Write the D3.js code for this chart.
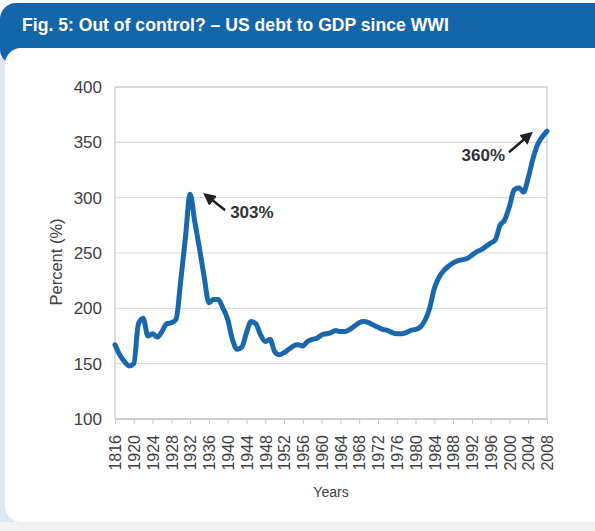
<!DOCTYPE html>
<html>
<head>
<meta charset="utf-8">
<script src="https://cdn.jsdelivr.net/npm/d3@7"></script>
<style>
  html, body { margin: 0; padding: 0; background: #ffffff; }
  svg { display: block; font-family: "Liberation Sans", Arial, sans-serif; }
</style>
</head>
<body>
<svg id="chart" width="595" height="531"></svg>
<script>
// ---- data ----
const title = "Fig. 5: Out of control? – US debt to GDP since WWI";
const years = d3.range(1916, 2009);
const debtToGdp = [
  167, 158, 152, 148, 150, 186, 191, 175, 177, 174, // 1916-1925
  179, 186, 187, 190, 225, 264, 303, 278, 254, 228, // 1926-1935
  205, 208, 208, 200, 190, 172, 163, 165, 178, 188, // 1936-1945
  186, 176, 170, 172, 161, 158, 160, 163, 166, 167, // 1946-1955
  166, 170, 172, 173, 176, 177, 178, 180, 179, 179, // 1956-1965
  181, 184, 187, 188, 187, 185, 183, 181, 180, 178, // 1966-1975
  177, 177, 178, 180, 181, 183, 189, 200, 218, 228, // 1976-1985
  234, 238, 241, 243, 244, 245, 248, 251, 253, 256, // 1986-1995
  259, 262, 275, 280, 292, 307, 309, 305, 318, 335, // 1996-2005
  348, 355, 360                                     // 2006-2008
];
const yTicks = [100, 150, 200, 250, 300, 350, 400];
const xTickYears = d3.range(1916, 2009, 4);
const xTickLabels = ["1816", "1920", "1924", "1928", "1932", "1936", "1940", "1944",
  "1948", "1952", "1956", "1960", "1964", "1968", "1972", "1976", "1980", "1984",
  "1988", "1992", "1996", "2000", "2004", "2008"];
const annotations = [
  { year: 1932, value: 303, label: "303%" },
  { year: 2008, value: 360, label: "360%" }
];

// ---- layout ----
const svg = d3.select("#chart");
const W = 595, H = 531;
const plot = { left: 115, right: 547, top: 87, bottom: 419 };

// frame
svg.append("rect").attr("x", 0).attr("y", 0).attr("width", W).attr("height", H).attr("fill", "#ffffff");
svg.append("rect").attr("x", 0).attr("y", 46).attr("width", W).attr("height", H - 46).attr("fill", "#dfe8f1");
svg.append("rect").attr("x", 0).attr("y", 3).attr("width", W + 20).attr("height", 62).attr("rx", 16).attr("fill", "#1565a9");
svg.append("rect").attr("x", 5).attr("y", 48).attr("width", W + 20).attr("height", 474).attr("rx", 16).attr("fill", "#ffffff");
svg.append("rect").attr("x", 0).attr("y", 522).attr("width", W).attr("height", 9).attr("fill", "#f2f2f2");

svg.append("text")
  .attr("x", 22).attr("y", 31)
  .attr("fill", "#ffffff")
  .attr("font-size", 17.6).attr("font-weight", "bold")
  .text(title);

// scales
const x = d3.scaleLinear().domain([1916, 2008]).range([plot.left, plot.right]);
const y = d3.scaleLinear().domain([100, 400]).range([plot.bottom, plot.top]);

// gridlines
svg.append("g").selectAll("line").data(yTicks).join("line")
  .attr("x1", plot.left).attr("x2", plot.right)
  .attr("y1", d => y(d)).attr("y2", d => y(d))
  .attr("stroke", "#dcdcdc").attr("stroke-width", 1.2);

// plot border
svg.append("rect")
  .attr("x", plot.left).attr("y", plot.top)
  .attr("width", plot.right - plot.left).attr("height", plot.bottom - plot.top)
  .attr("fill", "none").attr("stroke", "#c8c8c8").attr("stroke-width", 1.2);

// y axis
const yAxis = svg.append("g")
  .attr("transform", `translate(${plot.left},0)`)
  .call(d3.axisLeft(y).tickValues(yTicks).tickSize(0).tickPadding(13));
yAxis.select(".domain").remove();
yAxis.selectAll("text").attr("font-size", 17).attr("fill", "#404040")
  .attr("font-family", "Liberation Sans, Arial, sans-serif");

// x axis
const xAxis = svg.append("g")
  .attr("transform", `translate(0,${plot.bottom})`)
  .call(d3.axisBottom(x).tickValues(xTickYears).tickFormat((d, i) => xTickLabels[i]).tickSize(5));
xAxis.select(".domain").attr("stroke", "#c8c8c8");
xAxis.selectAll(".tick line").attr("stroke", "#c8c8c8");
xAxis.selectAll("text")
  .attr("font-size", 16).attr("fill", "#404040")
  .attr("font-family", "Liberation Sans, Arial, sans-serif")
  .attr("transform", "rotate(-90)")
  .attr("text-anchor", "end")
  .attr("x", -16).attr("y", 0).attr("dy", "0.36em");

// axis titles
svg.append("text")
  .attr("transform", "translate(62,262) rotate(-90)")
  .attr("text-anchor", "middle")
  .attr("font-size", 16.5).attr("fill", "#404040")
  .text("Percent (%)");
svg.append("text")
  .attr("x", 331).attr("y", 497)
  .attr("text-anchor", "middle")
  .attr("font-size", 14).attr("fill", "#404040")
  .text("Years");

// line
const line = d3.line()
  .x((d, i) => x(years[i]))
  .y(d => y(d))
  .curve(d3.curveMonotoneX);
svg.append("path")
  .datum(debtToGdp)
  .attr("d", line)
  .attr("fill", "none")
  .attr("stroke", "#1a67ad")
  .attr("stroke-width", 5)
  .attr("stroke-linejoin", "round")
  .attr("stroke-linecap", "round");

// annotations
const defs = svg.append("defs");
defs.append("marker")
  .attr("id", "arrowhead")
  .attr("viewBox", "0 0 10 10")
  .attr("refX", 7).attr("refY", 5)
  .attr("markerWidth", 5).attr("markerHeight", 5)
  .attr("orient", "auto")
  .append("path")
  .attr("d", "M0,0 L10,5 L0,10 Z")
  .attr("fill", "#222222");

const a1 = annotations[0], a2 = annotations[1];
// 303% arrow: points up-left towards the peak
svg.append("line")
  .attr("x1", x(a1.year) + 35).attr("y1", y(a1.value) + 16)
  .attr("x2", x(a1.year) + 16).attr("y2", y(a1.value) + 1)
  .attr("stroke", "#222222").attr("stroke-width", 2.5)
  .attr("marker-end", "url(#arrowhead)");
svg.append("text")
  .attr("x", x(a1.year) + 40).attr("y", y(a1.value) + 24)
  .attr("font-size", 17).attr("font-weight", "bold").attr("fill", "#333333")
  .text(a1.label);

// 360% arrow: points up-right towards the end
svg.append("line")
  .attr("x1", x(a2.year) - 38).attr("y1", y(a2.value) + 21)
  .attr("x2", x(a2.year) - 17).attr("y2", y(a2.value) + 3)
  .attr("stroke", "#222222").attr("stroke-width", 2.5)
  .attr("marker-end", "url(#arrowhead)");
svg.append("text")
  .attr("x", x(a2.year) - 42).attr("y", y(a2.value) + 30)
  .attr("text-anchor", "end")
  .attr("font-size", 17).attr("font-weight", "bold").attr("fill", "#333333")
  .text(a2.label);
</script>
</body>
</html>
